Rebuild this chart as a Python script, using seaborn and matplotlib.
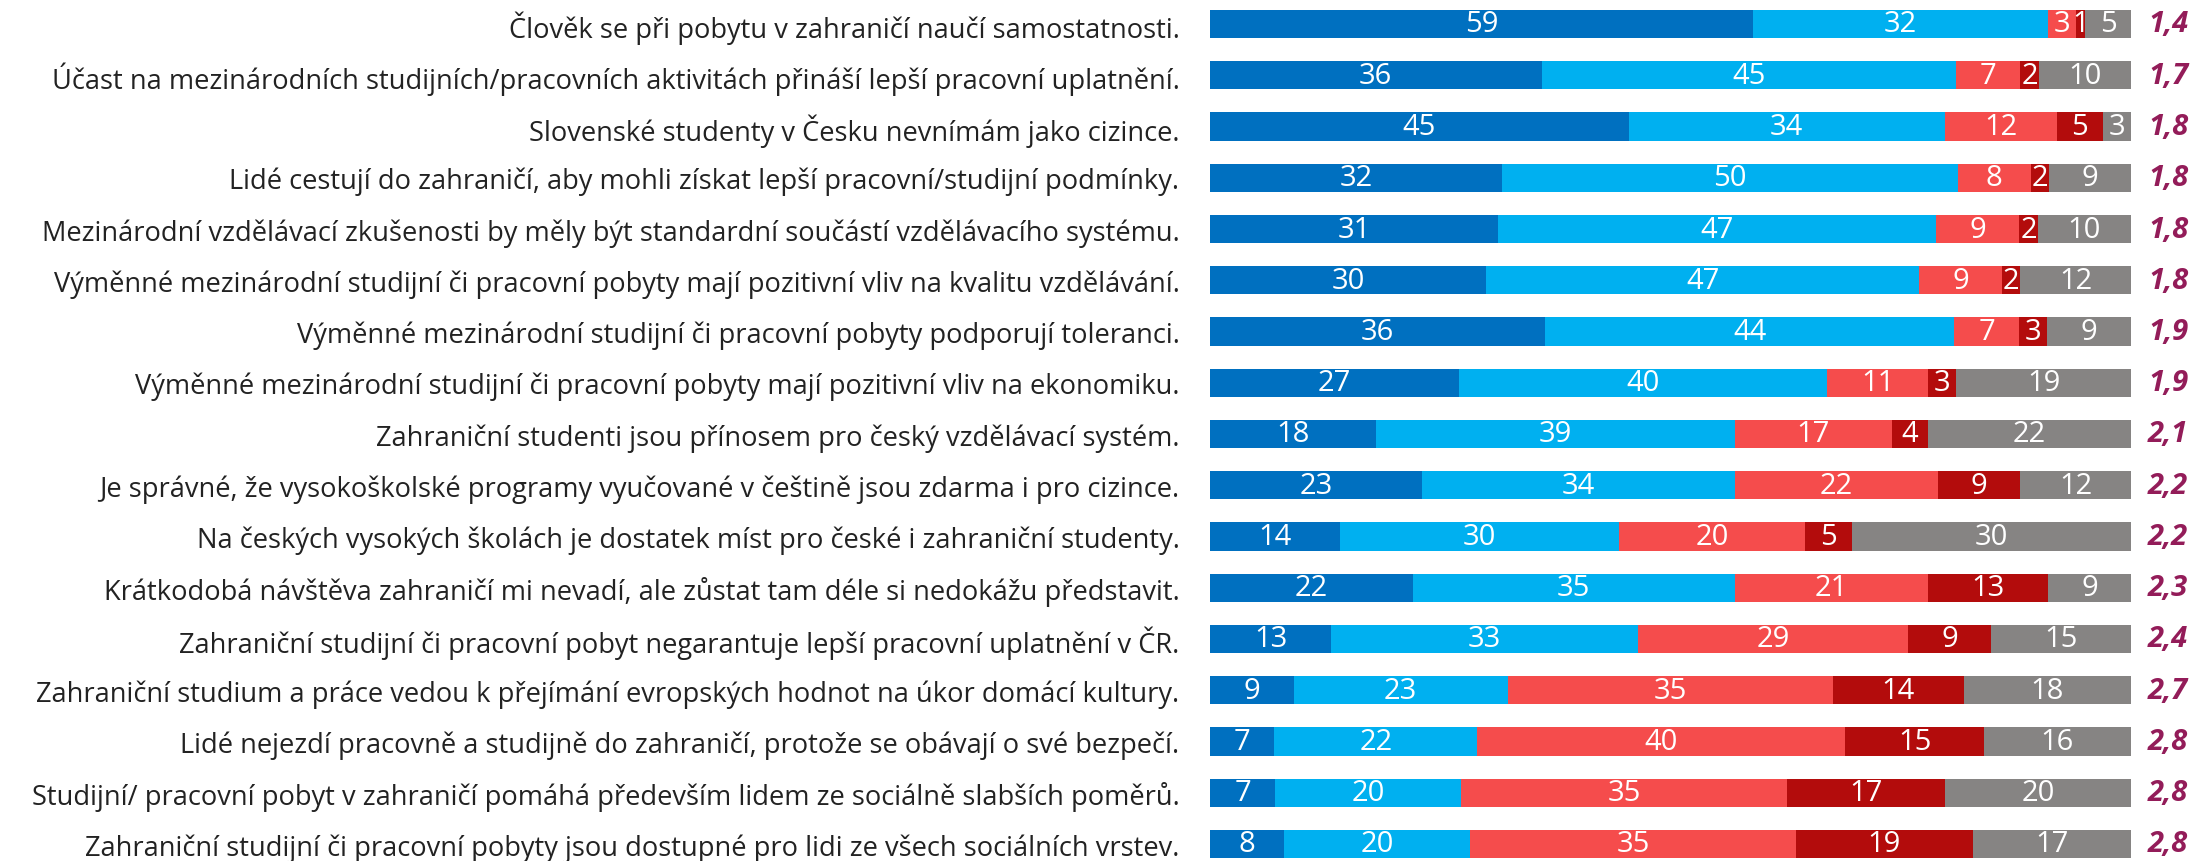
import numpy as np
import pandas as pd
import matplotlib
matplotlib.use("Agg")
import matplotlib.pyplot as plt
import matplotlib.transforms as mtransforms
import seaborn as sns

statements = [
    "Člověk se při pobytu v zahraničí naučí samostatnosti.",
    "Účast na mezinárodních studijních/pracovních aktivitách přináší lepší pracovní uplatnění.",
    "Slovenské studenty v Česku nevnímám jako cizince.",
    "Lidé cestují do zahraničí, aby mohli získat lepší pracovní/studijní podmínky.",
    "Mezinárodní vzdělávací zkušenosti by měly být standardní součástí vzdělávacího systému.",
    "Výměnné mezinárodní studijní či pracovní pobyty mají pozitivní vliv na kvalitu vzdělávání.",
    "Výměnné mezinárodní studijní či pracovní pobyty podporují toleranci.",
    "Výměnné mezinárodní studijní či pracovní pobyty mají pozitivní vliv na ekonomiku.",
    "Zahraniční studenti jsou přínosem pro český vzdělávací systém.",
    "Je správné, že vysokoškolské programy vyučované v češtině jsou zdarma i pro cizince.",
    "Na českých vysokých školách je dostatek míst pro české i zahraniční studenty.",
    "Krátkodobá návštěva zahraničí mi nevadí, ale zůstat tam déle si nedokážu představit.",
    "Zahraniční studijní či pracovní pobyt negarantuje lepší pracovní uplatnění v ČR.",
    "Zahraniční studium a práce vedou k přejímání evropských hodnot na úkor domácí kultury.",
    "Lidé nejezdí pracovně a studijně do zahraničí, protože se obávají o své bezpečí.",
    "Studijní/ pracovní pobyt v zahraničí pomáhá především lidem ze sociálně slabších poměrů.",
    "Zahraniční studijní či pracovní pobyty jsou dostupné pro lidi ze všech sociálních vrstev.",
]
definitely_yes = [59, 36, 45, 32, 31, 30, 36, 27, 18, 23, 14, 22, 13, 9, 7, 7, 8]
rather_yes     = [32, 45, 34, 50, 47, 47, 44, 40, 39, 34, 30, 35, 33, 23, 22, 20, 20]
rather_no      = [3, 7, 12, 8, 9, 9, 7, 11, 17, 22, 20, 21, 29, 35, 40, 35, 35]
definitely_no  = [1, 2, 5, 2, 2, 2, 3, 3, 4, 9, 5, 13, 9, 14, 15, 17, 19]
dont_know      = [5, 10, 3, 9, 10, 12, 9, 19, 22, 12, 30, 9, 15, 18, 16, 20, 17]
means = ["1,4", "1,7", "1,8", "1,8", "1,8", "1,8", "1,9", "1,9", "2,1",
         "2,2", "2,2", "2,3", "2,4", "2,7", "2,8", "2,8", "2,8"]

series = [definitely_yes, rather_yes, rather_no, definitely_no, dont_know]
colors = ["#0070C0", "#00B0F0", "#F54C4C", "#B30C0C", "#868483"]
mean_color = "#931C59"

sns.set_theme(style="white")
plt.rcParams['font.family'] = ['Open Sans', 'DejaVu Sans']

W, H = 2210, 862
fig = plt.figure(figsize=(W / 100, H / 100), dpi=100)
left_px, right_px = 1210, 2131
ax = fig.add_axes([left_px / W, 0, (right_px - left_px) / W, 1])

data = np.array(series, dtype=float)
totals = data.sum(axis=0)
shares = data / totals * 100

n = len(statements)
y = np.arange(n)
left = np.zeros(n)
for k in range(len(series)):
    df = pd.DataFrame({"stmt": statements, "val": shares[k], "left": left})
    bars = ax.barh(df["stmt"], df["val"], left=df["left"], height=0.55,
                   color=colors[k], edgecolor="none")
    for i, b in enumerate(bars):
        v = series[k][i]
        cx = b.get_x() + b.get_width() / 2
        ax.text(cx, i, str(v), ha="center", va="center", color="white",
                fontsize=21)
    left = left + shares[k]

row_px = 51.25
top_center = 25
ax.set_ylim((H - top_center) / row_px, -top_center / row_px)
ax.set_xlim(0, 100)
ax.set_yticks(y)
ax.set_yticklabels(statements, fontsize=19.6, color="#222222")
ax.tick_params(axis="y", length=0, pad=22)
ax.set_xticks([])
for s in ax.spines.values():
    s.set_visible(False)

trans = mtransforms.blended_transform_factory(fig.transFigure, ax.transData)
for i, m in enumerate(means):
    ax.text(2168 / W, i, m, transform=trans, ha="center", va="center",
            color=mean_color, fontsize=21, fontweight="bold", fontstyle="italic")

fig.savefig("out.png", dpi=100)
